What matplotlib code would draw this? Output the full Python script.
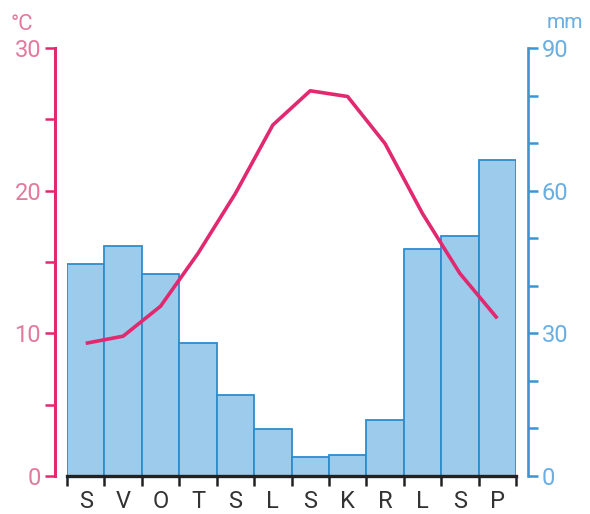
import numpy as np
import matplotlib.pyplot as plt

plt.rcParams['font.family'] = ['Roboto', 'DejaVu Sans']

months = ["S", "V", "O", "T", "S", "L", "S", "K", "R", "L", "S", "P"]
precip_mm = [44.6, 48.4, 42.4, 28.0, 17.0, 9.9, 4.0, 4.4, 11.8, 47.7, 50.5, 66.4]
temp_c = [9.3, 9.8, 11.9, 15.6, 19.8, 24.6, 27.0, 26.6, 23.3, 18.4, 14.2, 11.05]

pink = "#e2286f"
pink_txt = "#e27a9e"
blue = "#3c95d2"
blue_txt = "#6aaee2"

fig = plt.figure(figsize=(5.9, 5.14), dpi=100)
ax = fig.add_axes([67 / 590, 38 / 514, 449 / 590, 428 / 514])
ax_t = ax.twinx()   # note: twinx moves ax ticks to the left, fix below
x = np.arange(len(months))

ax.bar(x, precip_mm, width=1.0, color="#9ccbec", edgecolor="#2f8cca", linewidth=1.3)
ax.set_xlim(-0.5, len(months) - 0.5)
ax.set_ylim(0, 90)

# right (precipitation) axis
ax.yaxis.tick_right()
ax.yaxis.set_label_position("right")
ax.set_yticks([0, 30, 60, 90])
ax.set_yticks(np.arange(0, 91, 10), minor=True)
ax.tick_params(axis="y", which="both", colors=blue, width=1.8, length=7,
               labelcolor=blue_txt, labelsize=17, pad=3)
ax.spines["right"].set_visible(True)
ax.spines["right"].set_position(("outward", 8.6))
ax.spines["right"].set_color(blue)
ax.spines["right"].set_linewidth(1.9)
ax.spines["left"].set_visible(False)
ax.spines["top"].set_visible(False)

# month axis
ax.spines["bottom"].set_color("#222222")
ax.spines["bottom"].set_linewidth(2.4)
ax.set_xticks(np.arange(-0.5, len(months), 1.0))
ax.set_xticklabels([])
ax.set_xticks(x, minor=True)
ax.set_xticklabels(months, minor=True)
ax.tick_params(axis="x", which="major", length=7, width=1.8, color="#222222")
ax.tick_params(axis="x", which="minor", length=0, labelsize=17,
               labelcolor="#333333", pad=10)

# left (temperature) axis
ax_t.plot(x, temp_c, color=pink, linewidth=2.6, solid_capstyle="butt")
ax_t.set_ylim(0, 30)
ax_t.yaxis.tick_left()
ax_t.set_yticks([0, 10, 20, 30])
ax_t.set_yticks([5, 15, 25], minor=True)
ax_t.tick_params(axis="y", which="both", colors=pink, width=1.8, length=7,
                 labelcolor=pink_txt, labelsize=17, pad=3)
for s in ["right", "top", "bottom"]:
    ax_t.spines[s].set_visible(False)
ax_t.spines["left"].set_visible(True)
ax_t.spines["left"].set_position(("outward", 8.6))
ax_t.spines["left"].set_color(pink)
ax_t.spines["left"].set_linewidth(2.2)

fig.text(22 / 590, 1 - 24 / 514, "°C", color=pink_txt, fontsize=16,
         ha="center", va="center")
fig.text(565 / 590, 1 - 22 / 514, "mm", color=blue_txt, fontsize=15,
         ha="center", va="center")

fig.savefig("out.png", dpi=100)
